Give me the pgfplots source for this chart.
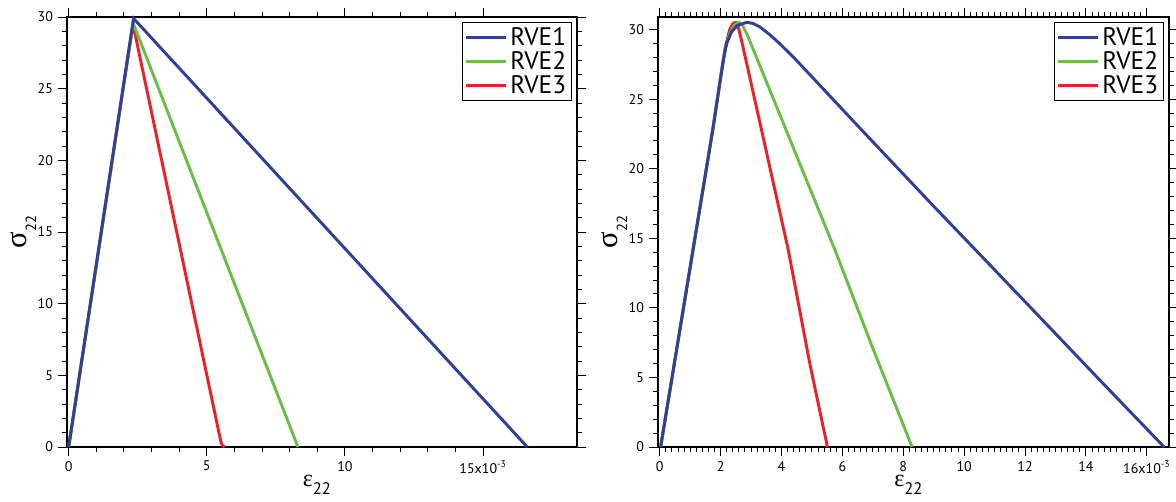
\documentclass[border=0pt]{standalone}
\usepackage{fontspec}
\setmainfont{PT Sans}
\newfontfamily\greek{Liberation Serif}
\usepackage{pgfplots}
\pgfplotsset{compat=1.18}

\definecolor{rveblue}{RGB}{46,64,152}
\definecolor{rvegreen}{RGB}{104,190,70}
\definecolor{rvered}{RGB}{236,32,38}

\pgfplotsset{
  rve/.style={
    scale only axis, height=322.5pt,
    axis line style={line width=0.8pt},
    tick style={black, line width=0.7pt},
    tick align=outside, major tick length=7pt, minor tick length=3.5pt,
    ymin=0, ytick={0,5,...,30}, minor y tick num=4,
    /pgf/number format/assume math mode=true,
    tick label style={font=\fontsize{10.5}{12}\selectfont},
    clip=false,
    legend style={at={(0.99,0.988)}, anchor=north east, draw=black,
      line width=0.7pt, font=\fontsize{19}{21}\selectfont,
      inner xsep=2pt, inner ysep=1.5pt, row sep=-1pt},
    legend cell align=left, reverse legend,
    legend image code/.code={\draw[#1] (0pt,0pt) -- (30pt,0pt);},
    every axis plot/.append style={line width=2.2pt},
    ylabel={\fontsize{23}{24}\selectfont{\greek σ}\raisebox{-0.3em}{\fontsize{11}{12}\selectfont 22}},
    xlabel={\fontsize{18}{20}\selectfont{\greek ε}\raisebox{-0.3em}{\fontsize{12.5}{14}\selectfont 22}},
    ylabel style={at={(axis description cs:-0.085,0.5)}, anchor=center, rotate=0},
    xlabel style={at={(axis description cs:0.49,-0.088)}, anchor=center},
  }
}

\begin{document}
\begin{tikzpicture}
\useasboundingbox (-50.25pt,-40.5pt) rectangle (831.75pt,335.25pt);

% left: linear softening
\begin{axis}[rve, at={(0pt,0pt)}, anchor=south west, width=382.5pt,
  xmin=-0.06, xmax=18.4, ymax=30,
  xtick={0,5,10,15}, minor x tick num=4,
  xticklabels={0,5,10,{15x10\textsuperscript{-3}}}]
\addplot[rvered] coordinates {(0,0) (2.33,29.5) (5.5,0.45) (5.56,0.12) (5.65,0)};
\addlegendentry{RVE3}
\addplot[rvegreen] coordinates {(0,0) (2.33,29.6) (8.3,0)};
\addlegendentry{RVE2}
\addplot[rveblue] coordinates {(0,0) (2.35,29.9) (16.6,0)};
\addlegendentry{RVE1}
\end{axis}

% right: smooth peak
\begin{axis}[rve, at={(443.25pt,0pt)}, anchor=south west, width=383.25pt,
  xmin=-0.056, xmax=16.73, ymax=30.9,
  xtick={0,2,...,16}, minor x tick num=9,
  xticklabels={0,2,4,6,8,10,12,14,{16x10\textsuperscript{-3}}}]
\addplot[rvered] coordinates {(0.03,0) (1.75,22.9) (2.0,26.6) (2.15,28.7) (2.3,30.0) (2.41,30.45) (2.5,30.5) (2.58,30.2) (2.7,29.1) (4.22,14.2) (4.93,6.0) (5.51,0)};
\addlegendentry{RVE3}
\addplot[rvegreen] coordinates {(0.03,0) (1.75,22.9) (2.0,26.6) (2.15,28.6) (2.3,29.7) (2.45,30.3) (2.6,30.52) (2.72,30.3) (2.9,29.5) (5.75,14.2) (7.0,7.1) (8.29,0)};
\addlegendentry{RVE2}
\addplot[rveblue] coordinates {(0.03,0) (1.75,22.9) (2.0,26.5) (2.1,27.9) (2.2,29.0) (2.35,29.8) (2.55,30.3) (2.87,30.52) (3.07,30.43) (3.29,30.19) (3.61,29.64) (3.94,28.99) (4.4,28.0) (5.0,26.6) (6.57,22.93) (9.0,17.3) (10.84,13.1) (12.5,9.3) (14.46,4.8) (16.57,0)};
\addlegendentry{RVE1}
\end{axis}
\end{tikzpicture}
\end{document}
